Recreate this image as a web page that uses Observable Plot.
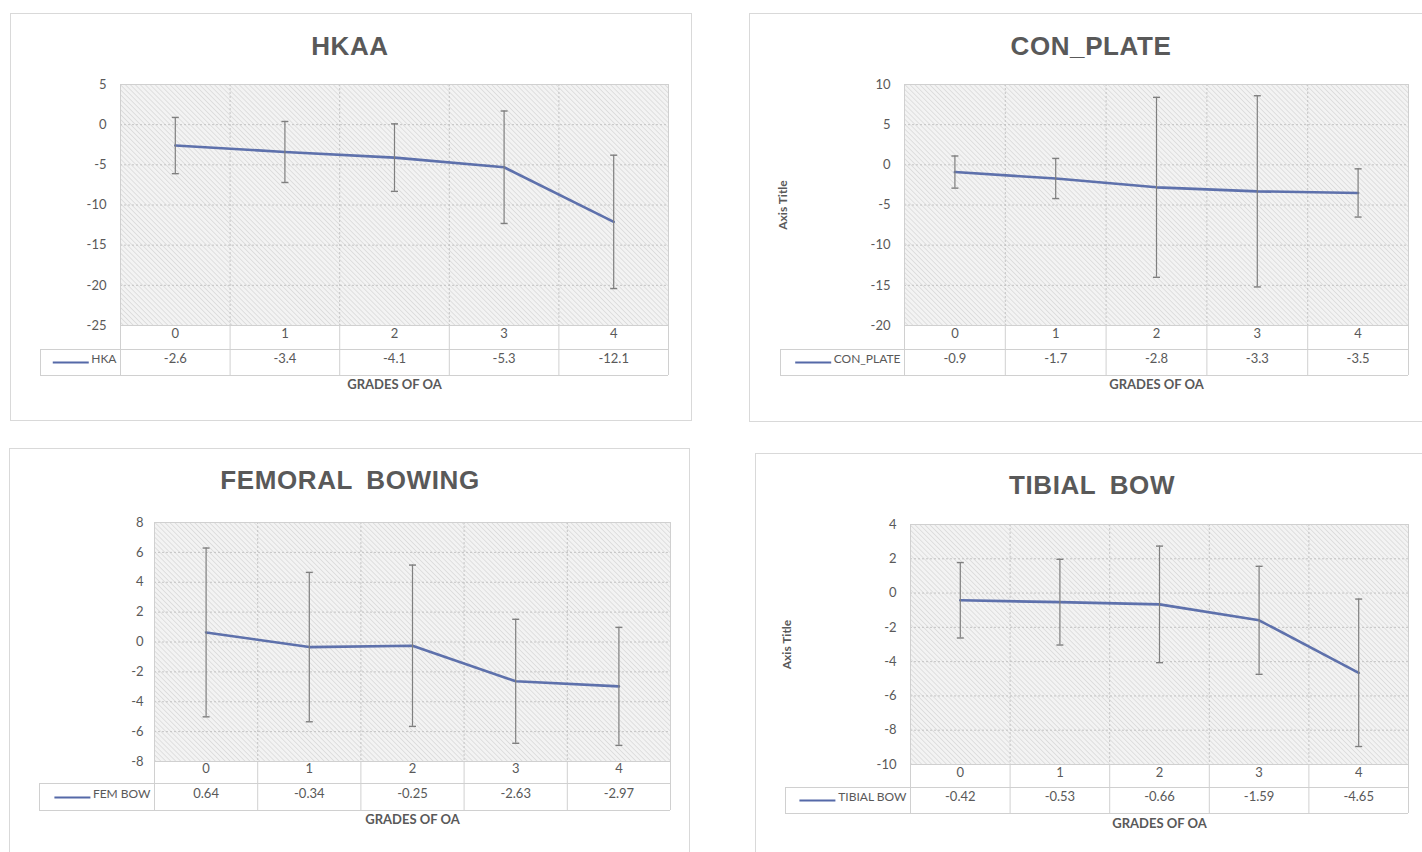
<!DOCTYPE html>
<html>
<head>
<meta charset="utf-8">
<script src="https://cdn.jsdelivr.net/npm/d3@7"></script>
<script src="https://cdn.jsdelivr.net/npm/@observablehq/plot@0.6"></script>
<style>
  body { margin: 0; background: #fff; width: 1422px; height: 852px; overflow: hidden; position: relative; font-family: Lato, sans-serif; }
  .panel { position: absolute; border: 1px solid #d9d9d9; box-sizing: border-box; }
  .title { position: absolute; transform: translate(-50%, -50%); font-family: "Liberation Sans", Arial, sans-serif; font-weight: bold; font-size: 26px; color: #595959; white-space: nowrap; letter-spacing: 0.6px; word-spacing: 6px; }
  .chart { position: absolute; }
  .chart svg { overflow: visible; }
</style>
</head>
<body>
<svg width="0" height="0" style="position:absolute">
  <defs>
    <pattern id="hatch" width="3.5" height="3.5" patternUnits="userSpaceOnUse" patternTransform="rotate(-45)">
      <rect width="3.5" height="3.5" fill="#f3f3f3"></rect>
      <line x1="0" y1="0" x2="0" y2="3.5" stroke="#cfcfcf" stroke-width="1.1"></line>
    </pattern>
  </defs>
</svg>
<script>
// ---- data ----
const grades = [0, 1, 2, 3, 4];

const hkaMean = [-2.6, -3.4, -4.1, -5.3, -12.1];
const hkaSD   = [3.5, 3.8, 4.2, 7.0, 8.3];
const hkaTicks = [-25, -20, -15, -10, -5, 0, 5];

const conMean = [-0.9, -1.7, -2.8, -3.3, -3.5];
const conSD   = [2.0, 2.5, 11.2, 11.9, 3.0];
const conTicks = [-20, -15, -10, -5, 0, 5, 10];

const femMean = [0.64, -0.34, -0.25, -2.63, -2.97];
const femSD   = [5.65, 5.0, 5.4, 4.15, 3.95];
const femTicks = [-8, -6, -4, -2, 0, 2, 4, 6, 8];

const tibMean = [-0.42, -0.53, -0.66, -1.59, -4.65];
const tibSD   = [2.2, 2.5, 3.4, 3.15, 4.3];
const tibTicks = [-10, -8, -6, -4, -2, 0, 2, 4];

const xTitle = "GRADES OF OA";
const yTitle = "Axis Title";

// ---- styling ----
const lineColor = "#5569a8";
const errColor = "#7f7f7f";
const gridColor = "#c4c4c4";
const tableColor = "#d0d0d0";
const textColor = "#595959";

const canvas = document.createElement("canvas");
const ctx = canvas.getContext("2d");
function measure(t, font) { ctx.font = font; return ctx.measureText(t).width; }

const capSymbol = { draw(context) { context.moveTo(-3.5, 0); context.lineTo(3.5, 0); } };

function addPanel(cfg) {
  const box = document.createElement("div");
  box.className = "panel";
  Object.assign(box.style, { left: cfg.box[0] + "px", top: cfg.box[1] + "px", width: cfg.box[2] + "px", height: cfg.box[3] + "px" });
  document.body.appendChild(box);

  const title = document.createElement("div");
  title.className = "title";
  title.textContent = cfg.title;
  Object.assign(title.style, { left: cfg.titlePos[0] + "px", top: cfg.titlePos[1] + "px" });
  document.body.appendChild(title);

  const rows = grades.map((g, i) => ({ g, m: cfg.mean[i], sd: cfg.sd[i] }));
  const plotW = cfg.width - cfg.ml - cfg.mr;
  const plotH = cfg.height - cfg.mt - cfg.mb;
  const bounds = [-0.5, 0.5, 1.5, 2.5, 3.5, 4.5];
  const ymin = cfg.ticks[0];
  const legFont = "12px Lato";
  const labelW = measure(cfg.legend, legFont);
  const swatch = 36;

  const marks = [
    Plot.frame({ fill: "url(#hatch)" }),
    Plot.ruleY(cfg.ticks, { stroke: gridColor, strokeDasharray: "2,2" }),
    Plot.ruleX(bounds.slice(1, -1), { stroke: gridColor, strokeDasharray: "2,2" }),
    Plot.axisY({ ticks: cfg.ticks, tickFormat: d => String(d), tickSize: 0, tickPadding: cfg.tp, label: null, fontSize: 13 }),
    // data table
    Plot.ruleX(bounds, { insetTop: plotH, insetBottom: -cfg.tableH, stroke: tableColor }),
    Plot.ruleX([-0.5], { dx: -cfg.legendW, insetTop: plotH + cfg.rowH, insetBottom: -cfg.tableH, stroke: tableColor }),
    Plot.ruleY([ymin], { dy: cfg.rowH, insetLeft: -cfg.legendW, stroke: tableColor }),
    Plot.ruleY([ymin], { dy: cfg.tableH, insetLeft: -cfg.legendW, stroke: tableColor }),
    Plot.text(rows, { x: "g", text: d => String(d.g), frameAnchor: "bottom", dy: cfg.r1, fontSize: 13 }),
    Plot.text(rows, { x: "g", text: d => String(d.m), frameAnchor: "bottom", dy: cfg.r2, fontSize: 13 }),
    Plot.text([cfg.legend], { text: d => d, frameAnchor: "bottom-left", textAnchor: "end", dx: -4, dy: cfg.r2, fontSize: 12 }),
    Plot.ruleY([ymin], { dy: cfg.r2, insetLeft: -(4 + labelW + 2 + swatch), insetRight: plotW + 4 + labelW + 2, stroke: lineColor, strokeWidth: 2 }),
    Plot.text([xTitle], { text: d => d, frameAnchor: "bottom", dy: cfg.xl, fontWeight: "bold", fontSize: 13 }),
    // series
    Plot.line(rows, { x: "g", y: "m", stroke: lineColor, strokeWidth: 2.6, strokeOpacity: 0.95 }),
    Plot.ruleX(rows, { x: "g", y1: d => d.m - d.sd, y2: d => d.m + d.sd, stroke: errColor, strokeWidth: 1.2 }),
    Plot.dot(rows, { x: "g", y: d => d.m + d.sd, symbol: capSymbol, stroke: errColor, strokeWidth: 1.4, fill: "none", r: 4 }),
    Plot.dot(rows, { x: "g", y: d => d.m - d.sd, symbol: capSymbol, stroke: errColor, strokeWidth: 1.4, fill: "none", r: 4 }),
    Plot.frame({ stroke: tableColor })
  ];
  if (cfg.yTitle) {
    marks.push(Plot.text([yTitle], { text: d => d, frameAnchor: "left", textAnchor: "middle", dx: cfg.yTitle, rotate: -90, fontWeight: "bold", fontSize: 12 }));
  }

  const chart = Plot.plot({
    width: cfg.width, height: cfg.height,
    marginLeft: cfg.ml, marginRight: cfg.mr, marginTop: cfg.mt, marginBottom: cfg.mb,
    x: { type: "linear", domain: [-0.5, 4.5], axis: null },
    y: { domain: [cfg.ticks[0], cfg.ticks[cfg.ticks.length - 1]] },
    style: { fontFamily: "Lato, sans-serif", fontSize: "13px", color: textColor, background: "transparent", overflow: "visible" },
    marks
  });
  const wrap = document.createElement("div");
  wrap.className = "chart";
  Object.assign(wrap.style, { left: cfg.left + "px", top: cfg.top + "px" });
  wrap.appendChild(chart);
  document.body.appendChild(wrap);
}

addPanel({ title: "HKAA", legend: "HKA", mean: hkaMean, sd: hkaSD, ticks: hkaTicks,
  box: [10, 13, 682, 408], titlePos: [350, 46],
  left: 20, top: 74, width: 660, height: 326, ml: 100, mr: 12, mt: 10, mb: 75,
  rowH: 24, tableH: 50, r1: 12, r2: 37, xl: 63, tp: 14, legendW: 80 });

addPanel({ title: "CON_PLATE", legend: "CON_PLATE", mean: conMean, sd: conSD, ticks: conTicks,
  box: [749, 13, 690, 409], titlePos: [1091, 46],
  left: 760, top: 74, width: 660, height: 326, ml: 144, mr: 12, mt: 10, mb: 75,
  rowH: 24, tableH: 50, r1: 12, r2: 37, xl: 63, tp: 14, legendW: 124, yTitle: -121 });

addPanel({ title: "FEMORAL BOWING", legend: "FEM BOW", mean: femMean, sd: femSD, ticks: femTicks,
  box: [9, 448, 681, 420], titlePos: [350, 480],
  left: 20, top: 512, width: 662, height: 328, ml: 134, mr: 12, mt: 10, mb: 79,
  rowH: 22, tableH: 49, r1: 11, r2: 36, xl: 62, tp: 11, legendW: 115 });

addPanel({ title: "TIBIAL BOW", legend: "TIBIAL BOW", mean: tibMean, sd: tibSD, ticks: tibTicks,
  box: [755, 453, 690, 420], titlePos: [1092, 485],
  left: 760, top: 514, width: 660, height: 326, ml: 150, mr: 12, mt: 10, mb: 76,
  rowH: 23, tableH: 49, r1: 12, r2: 36, xl: 63, tp: 14, legendW: 125, yTitle: -123 });
</script>
</body>
</html>
